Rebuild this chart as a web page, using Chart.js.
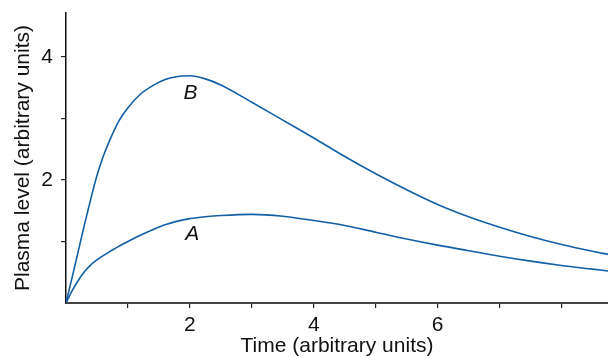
<!DOCTYPE html>
<html>
<head>
<meta charset="utf-8">
<script src="https://cdn.jsdelivr.net/npm/chart.js@4"></script>
<style>
  html, body { margin: 0; padding: 0; background: #fff; }
  #wrap { width: 608px; height: 357px; }
</style>
</head>
<body>
<div id="wrap"><canvas id="plasmaChart"></canvas></div>
<script>
// sample times and plasma levels for the two curves
const times   = [0, 0.1, 0.2, 0.3, 0.4, 0.5, 0.6, 0.7, 0.85, 1.0, 1.2, 1.4, 1.6, 1.8, 2.0, 2.25, 2.5, 3.0, 3.5, 4.0, 4.5, 5.0, 5.5, 6.0, 6.5, 7.0, 7.5, 8.0, 8.5, 8.75];
const levelsB = [0, 0.42, 0.85, 1.28, 1.69, 2.07, 2.38, 2.63, 2.95, 3.17, 3.39, 3.53, 3.63, 3.68, 3.69, 3.64, 3.54, 3.26, 2.97, 2.68, 2.38, 2.10, 1.84, 1.60, 1.40, 1.23, 1.08, 0.95, 0.84, 0.79];
const levelsA = [0, 0.20, 0.37, 0.51, 0.62, 0.70, 0.77, 0.83, 0.92, 1.00, 1.10, 1.19, 1.27, 1.33, 1.37, 1.40, 1.42, 1.44, 1.41, 1.34, 1.26, 1.15, 1.04, 0.94, 0.85, 0.76, 0.68, 0.61, 0.55, 0.52];

// tick positions and which of them carry a number
const xTicks = [1, 2, 3, 4, 5, 6, 7, 8];
const yTicks = [1, 2, 3, 4];
const xLabeled = [2, 4, 6];
const yLabeled = [2, 4];

// curve names and where they sit (data units)
const curveNames = ['B', 'A'];
const nameSpots = [[2.01, 3.41], [2.04, 1.11]];

const lineBlue = '#135fa6';
const fontFamily = '"Liberation Sans", Arial, sans-serif';

const toPoints = ys => times.map((t, i) => ({ x: t, y: ys[i] }));

const curveNamesPlugin = {
  id: 'curveNames',
  afterDatasetsDraw(chart) {
    const { ctx, scales: { x, y } } = chart;
    ctx.save();
    ctx.font = 'italic 21px ' + fontFamily;
    ctx.fillStyle = '#111';
    ctx.textAlign = 'center';
    ctx.textBaseline = 'middle';
    curveNames.forEach((name, i) => {
      ctx.fillText(name, x.getPixelForValue(nameSpots[i][0]), y.getPixelForValue(nameSpots[i][1]));
    });
    ctx.restore();
  }
};

new Chart(document.getElementById('plasmaChart'), {
  type: 'line',
  data: {
    datasets: [
      { label: 'B', data: toPoints(levelsB) },
      { label: 'A', data: toPoints(levelsA) }
    ]
  },
  options: {
    responsive: true,
    maintainAspectRatio: false,
    animation: false,
    layout: { padding: { top: 13, right: 0, left: 0, bottom: 0 } },
    elements: {
      point: { radius: 0 },
      line: { borderColor: lineBlue, borderWidth: 1.6, cubicInterpolationMode: 'monotone', fill: false }
    },
    plugins: {
      legend: { display: false },
      tooltip: { enabled: false }
    },
    scales: {
      x: {
        type: 'linear',
        min: 0,
        max: 8.75,
        afterBuildTicks: s => { s.ticks = xTicks.map(v => ({ value: v })); },
        afterFit: s => { s.height = 54; s.paddingLeft = 0; s.paddingRight = 0; },
        border: { display: true, color: '#444', width: 2 },
        grid: { drawOnChartArea: false, drawTicks: true, tickLength: 5, color: '#222', lineWidth: 1.2 },
        ticks: {
          padding: 5,
          color: '#111',
          maxRotation: 0,
          autoSkip: false,
          font: { family: fontFamily, size: 21 },
          callback: v => xLabeled.includes(v) ? String(v) : ''
        },
        title: {
          display: true,
          text: 'Time (arbitrary units)',
          color: '#111',
          font: { family: fontFamily, size: 21, lineHeight: 1 },
          padding: 0
        }
      },
      y: {
        type: 'linear',
        min: 0,
        max: 4.71,
        afterBuildTicks: s => { s.ticks = yTicks.map(v => ({ value: v })); },
        // keep the plot top pinned to the layout padding
        afterFit: s => { s.width = 66; s.paddingTop = 0; s.paddingBottom = 0; },
        border: { display: true, color: '#111', width: 1.5 },
        grid: { drawOnChartArea: false, drawTicks: true, tickLength: 5, color: '#222', lineWidth: 1.2 },
        ticks: {
          padding: 8,
          color: '#111',
          autoSkip: false,
          font: { family: fontFamily, size: 21 },
          callback: v => yLabeled.includes(v) ? String(v) : ''
        },
        title: {
          display: true,
          text: 'Plasma level (arbitrary units)',
          color: '#111',
          font: { family: fontFamily, size: 21, lineHeight: 1 },
          padding: { top: 12.5, bottom: 0 }
        }
      }
    }
  },
  plugins: [curveNamesPlugin]
});
</script>
</body>
</html>
